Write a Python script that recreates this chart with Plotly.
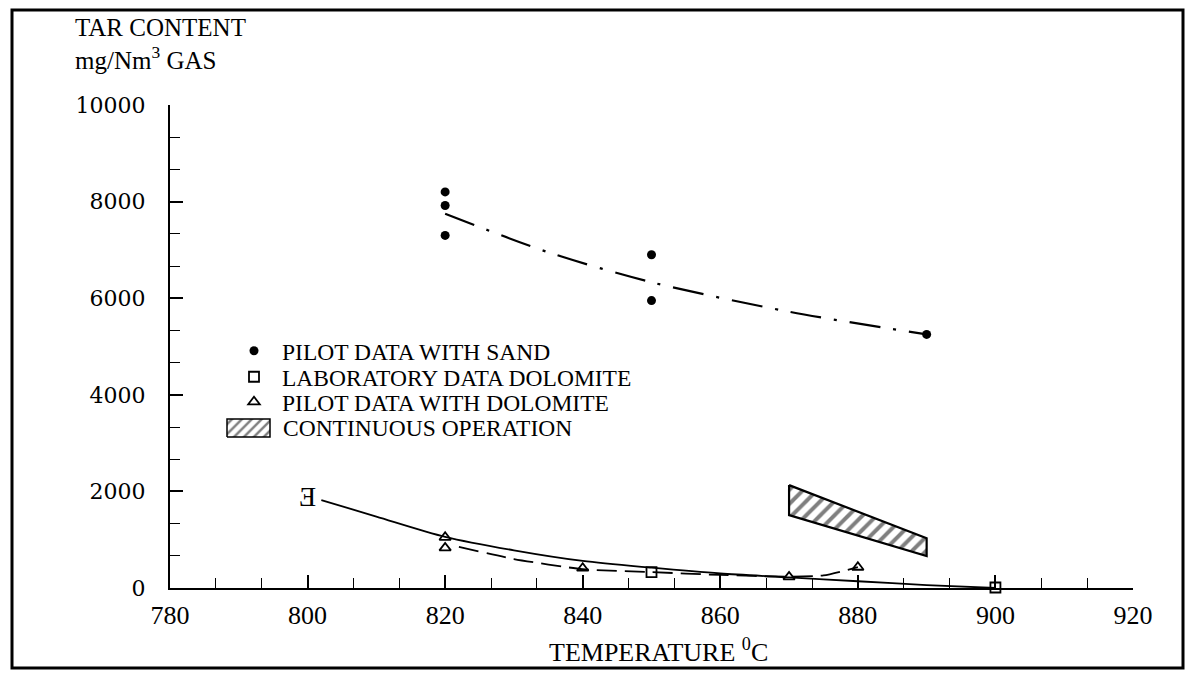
import plotly.graph_objects as go

# ---------------- data ----------------
# Pilot plant runs with sand bed
sand_temp = [820, 820, 820, 850, 850, 890]
sand_tar = [8200, 7920, 7300, 6900, 5950, 5250]
sand_fit_temp = [820, 835, 850, 870, 890]
sand_fit_tar = [7750, 6950, 6330, 5720, 5250]

# Laboratory runs with dolomite
lab_temp = [850, 900]
lab_tar = [330, 10]
lab_cluster_temp = [800]
lab_cluster_tar = [1850]
lab_fit_temp = [802, 810, 820, 830, 840, 850, 860, 870, 880, 890, 900]
lab_fit_tar = [1820, 1480, 1060, 780, 560, 420, 300, 220, 140, 60, 0]

# Pilot plant runs with dolomite
dol_temp = [820, 820, 840, 870, 880]
dol_tar = [1050, 830, 410, 230, 430]
dol_fit_temp = [822, 830, 840, 850, 860, 870, 875, 880]
dol_fit_tar = [850, 600, 390, 330, 270, 235, 260, 430]

# Continuous operation band (outline corners)
cont_temp = [870, 890, 890, 870, 870]
cont_tar = [2130, 1030, 660, 1510, 2130]

x_labels = [780, 800, 820, 840, 860, 880, 900, 920]
y_labels = [0, 2000, 4000, 6000, 8000, 10000]

legend_names = ["PILOT DATA WITH SAND", "LABORATORY DATA DOLOMITE",
                "PILOT DATA WITH DOLOMITE", "CONTINUOUS OPERATION"]

# ---------------- layout helpers ----------------
W, H = 1195, 681
ML, MR, MT, MB = 170, 62, 105, 93
PW, PH = W - ML - MR, H - MT - MB


def px_x(px):
    return (px - ML) / PW


def px_y(py):
    return (H - MB - py) / PH


FONT = "Liberation Serif"
INK = "black"
KEY_FONT = 23.5
KEY_ROWS = [352, 378, 403, 428]      # vertical centres of the key rows (px)
KEY_LEFT = 226                        # left edge of the key block (px)
KEY_TEXT_X = 283                      # where key texts start (px)

fig = go.Figure()

# fitted curves
fig.add_trace(go.Scatter(
    x=sand_fit_temp, y=sand_fit_tar, mode="lines", showlegend=False,
    line=dict(color=INK, width=2.2, dash="31px,13px,3px,13px", shape="spline", smoothing=0.8),
    hoverinfo="skip"))
fig.add_trace(go.Scatter(
    x=lab_fit_temp, y=lab_fit_tar, mode="lines", showlegend=False,
    line=dict(color=INK, width=1.8, shape="spline", smoothing=0.8),
    hoverinfo="skip", cliponaxis=False))
fig.add_trace(go.Scatter(
    x=dol_fit_temp, y=dol_fit_tar, mode="lines", showlegend=False,
    line=dict(color=INK, width=1.8, dash="20px,8px", shape="spline", smoothing=0.6),
    hoverinfo="skip"))

# measured points, each series with its own key row
fig.add_trace(go.Scatter(
    x=sand_temp, y=sand_tar, mode="markers", name=legend_names[0], legend="legend",
    marker=dict(symbol="circle", size=9, color=INK)))
fig.add_trace(go.Scatter(
    x=lab_temp, y=lab_tar, mode="markers", name=legend_names[1], legend="legend2",
    marker=dict(symbol="square-open", size=10, color=INK, line=dict(width=1.8)),
    cliponaxis=False))
fig.add_trace(go.Scatter(
    x=dol_temp, y=dol_tar, mode="markers", name=legend_names[2], legend="legend3",
    marker=dict(symbol="triangle-up-open", size=10, color=INK, line=dict(width=1.8)),
    cliponaxis=False))
fig.add_trace(go.Scatter(
    x=cont_temp, y=cont_tar, mode="lines", name=legend_names[3], showlegend=False,
    fill="toself", fillcolor="white",
    fillpattern=dict(shape="/", size=10, solidity=0.4, fgcolor=INK, bgcolor="white"),
    line=dict(color=INK, width=2.2)))
# overlapping laboratory points at 800 degC
fig.add_trace(go.Scatter(
    x=lab_cluster_temp, y=lab_cluster_tar, mode="text", text=["\u018e"],
    textfont=dict(family=FONT, size=28, color=INK), showlegend=False,
    hoverinfo="skip", cliponaxis=False))

# hatched key swatch for the continuous-operation band, drawn on a fixed 0..1 overlay
kx0, kx1 = px_x(227), px_x(270)
ky0, ky1 = px_y(KEY_ROWS[3] + 9), px_y(KEY_ROWS[3] - 9)
fig.add_trace(go.Scatter(
    x=[kx0, kx1, kx1, kx0, kx0], y=[ky0, ky0, ky1, ky1, ky0],
    xaxis="x2", yaxis="y2", mode="lines", fill="toself", fillcolor="white",
    fillpattern=dict(shape="/", size=7, solidity=0.35, fgcolor=INK, bgcolor="white"),
    line=dict(color=INK, width=1.5), showlegend=False, hoverinfo="skip"))

axis_common = dict(
    showline=True, linecolor=INK, linewidth=2.2, showgrid=False, zeroline=False,
    ticks="inside", ticklen=13, tickwidth=1.5, tickcolor=INK,
    tickmode="array",
)


def minor_ticks(start, step):
    # two extra ticks between labelled values
    return dict(tickmode="linear", tick0=start, dtick=step / 3, ticks="inside",
                ticklen=10, tickwidth=1.3, tickcolor=INK, showgrid=False)


def key_legend(row):
    return dict(x=px_x(KEY_LEFT), y=px_y(KEY_ROWS[row] - 23), xanchor="left", yanchor="top",
                font=dict(family=FONT, size=KEY_FONT, color=INK),
                bgcolor="rgba(0,0,0,0)", itemwidth=46)


fig.update_layout(
    width=W, height=H,
    margin=dict(l=ML, r=MR, t=MT, b=MB, autoexpand=False),
    paper_bgcolor="white", plot_bgcolor="white",
    font=dict(family=FONT, color=INK),
    xaxis=dict(range=[x_labels[0], x_labels[-1]], tickvals=x_labels,
               ticktext=[str(v) for v in x_labels],
               minor=minor_ticks(x_labels[0], x_labels[1] - x_labels[0]),
               tickfont=dict(size=26, family=FONT, color=INK), ticklabelstandoff=3,
               **axis_common),
    yaxis=dict(range=[y_labels[0], y_labels[-1]], tickvals=y_labels,
               ticktext=[str(v) for v in y_labels],
               minor=minor_ticks(y_labels[0], y_labels[1] - y_labels[0]),
               tickfont=dict(size=22, family="DejaVu Serif", color=INK), ticklabelstandoff=18,
               **axis_common),
    xaxis2=dict(overlaying="x", range=[0, 1], visible=False, fixedrange=True),
    yaxis2=dict(overlaying="y", range=[0, 1], visible=False, fixedrange=True),
    legend=key_legend(0),
    legend2=key_legend(1),
    legend3=key_legend(2),
    annotations=[
        dict(text="TAR CONTENT<br>mg/Nm<sup>3</sup> GAS", xref="paper", yref="paper",
             x=px_x(73), y=px_y(12), xanchor="left", yanchor="top", align="left",
             showarrow=False, font=dict(family=FONT, size=25, color=INK)),
        dict(text=legend_names[3], xref="paper", yref="paper",
             x=px_x(KEY_TEXT_X - 2), y=px_y(KEY_ROWS[3]), xanchor="left", yanchor="middle",
             showarrow=False, font=dict(family=FONT, size=KEY_FONT, color=INK)),
        dict(text="TEMPERATURE <sup>0</sup>C", xref="paper", yref="paper",
             x=px_x(658), y=px_y(650), xanchor="center", yanchor="middle",
             showarrow=False, font=dict(family=FONT, size=26, color=INK)),
    ],
    shapes=[
        dict(type="rect", xref="paper", yref="paper",
             x0=px_x(12), x1=px_x(1183), y0=px_y(668), y1=px_y(10),
             line=dict(color=INK, width=3)),
    ],
)

fig.write_html("out.html")
